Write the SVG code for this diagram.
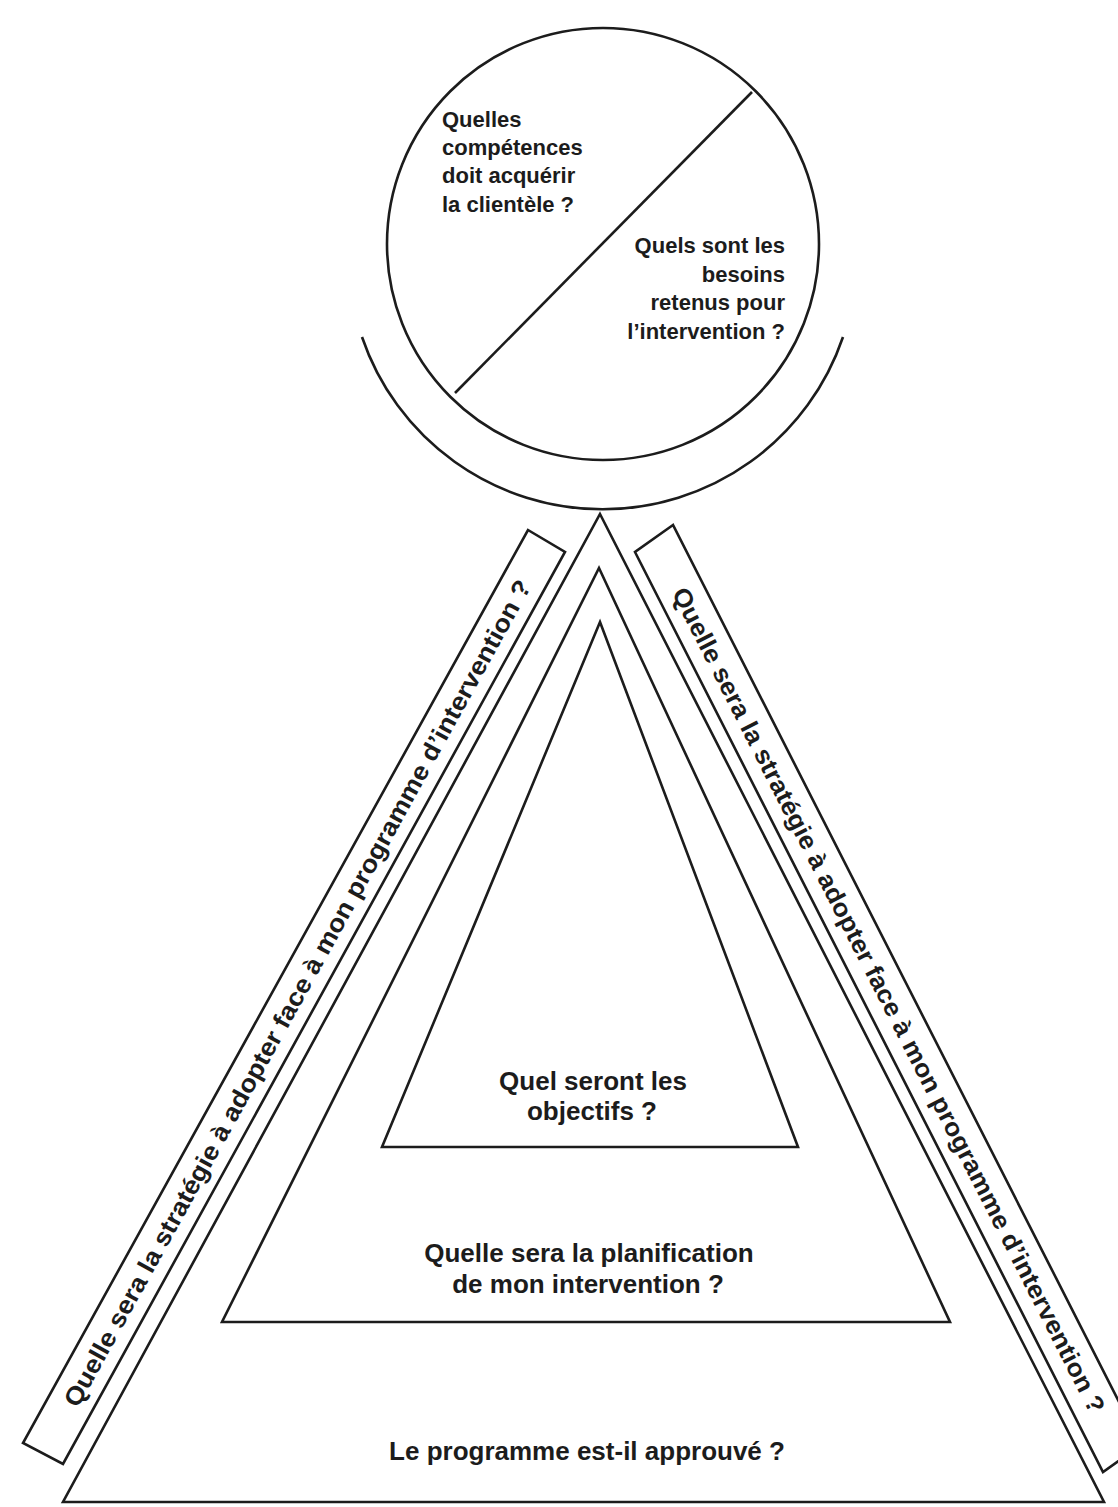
<svg xmlns="http://www.w3.org/2000/svg" width="1118" height="1507" viewBox="0 0 1118 1507">
<style>
.ln{fill:none;stroke:#1c1c1c;stroke-width:2.6;stroke-linejoin:miter}
.t{font-family:"Liberation Sans",Arial,sans-serif;font-weight:bold;fill:#1c1c1c}
.s{font-size:22px}
.m{font-size:26px;text-anchor:middle}
.b{font-size:25px;text-anchor:middle}
</style>
<rect width="1118" height="1507" fill="#ffffff"/>
<g id="circle-node">
<circle class="ln" cx="603" cy="244" r="216"/>
<line class="ln" x1="752" y1="92" x2="455" y2="393"/>
<text class="t s" x="442" y="127">Quelles</text>
<text class="t s" x="442" y="155">compétences</text>
<text class="t s" x="442" y="183">doit acquérir</text>
<text class="t s" x="442" y="212">la clientèle ?</text>
<text class="t s" x="785" y="253" text-anchor="end">Quels sont les</text>
<text class="t s" x="785" y="282" text-anchor="end">besoins</text>
<text class="t s" x="785" y="310" text-anchor="end">retenus pour</text>
<text class="t s" x="785" y="339" text-anchor="end">l’intervention ?</text>
</g>
<g id="cradle-arc">
<path class="ln" d="M362 337 A254 254 0 0 0 843 337"/>
</g>
<g id="outer-triangle">
<polygon class="ln" points="600,514 1104,1502 63,1502"/>
<text class="t m" x="587" y="1460">Le programme est-il approuvé ?</text>
</g>
<g id="middle-triangle">
<polygon class="ln" points="599,568 950,1322 222,1322"/>
<text class="t m" x="589" y="1262">Quelle sera la planification</text>
<text class="t m" x="588" y="1293">de mon intervention ?</text>
</g>
<g id="inner-triangle">
<polygon class="ln" points="600,622 798,1147 382,1147"/>
<text class="t m" x="593" y="1090">Quel seront les</text>
<text class="t m" x="592" y="1120">objectifs ?</text>
</g>
<g id="left-bar">
<polygon class="ln" points="528,530 565,552 63,1464 23,1443"/>
<text class="t b" transform="translate(297,993) rotate(-61.1)" x="0" y="9" textLength="940" lengthAdjust="spacingAndGlyphs">Quelle sera la stratégie à adopter face à mon programme d’intervention ?</text>
</g>
<g id="right-bar">
<polygon class="ln" points="673,525 635,552 1103,1472 1141,1445"/>
<text class="t b" transform="translate(889,1000) rotate(63)" x="0" y="9" textLength="923" lengthAdjust="spacingAndGlyphs">Quelle sera la stratégie à adopter face à mon programme d’intervention ?</text>
</g>
<g id="connectors"/>
</svg>
